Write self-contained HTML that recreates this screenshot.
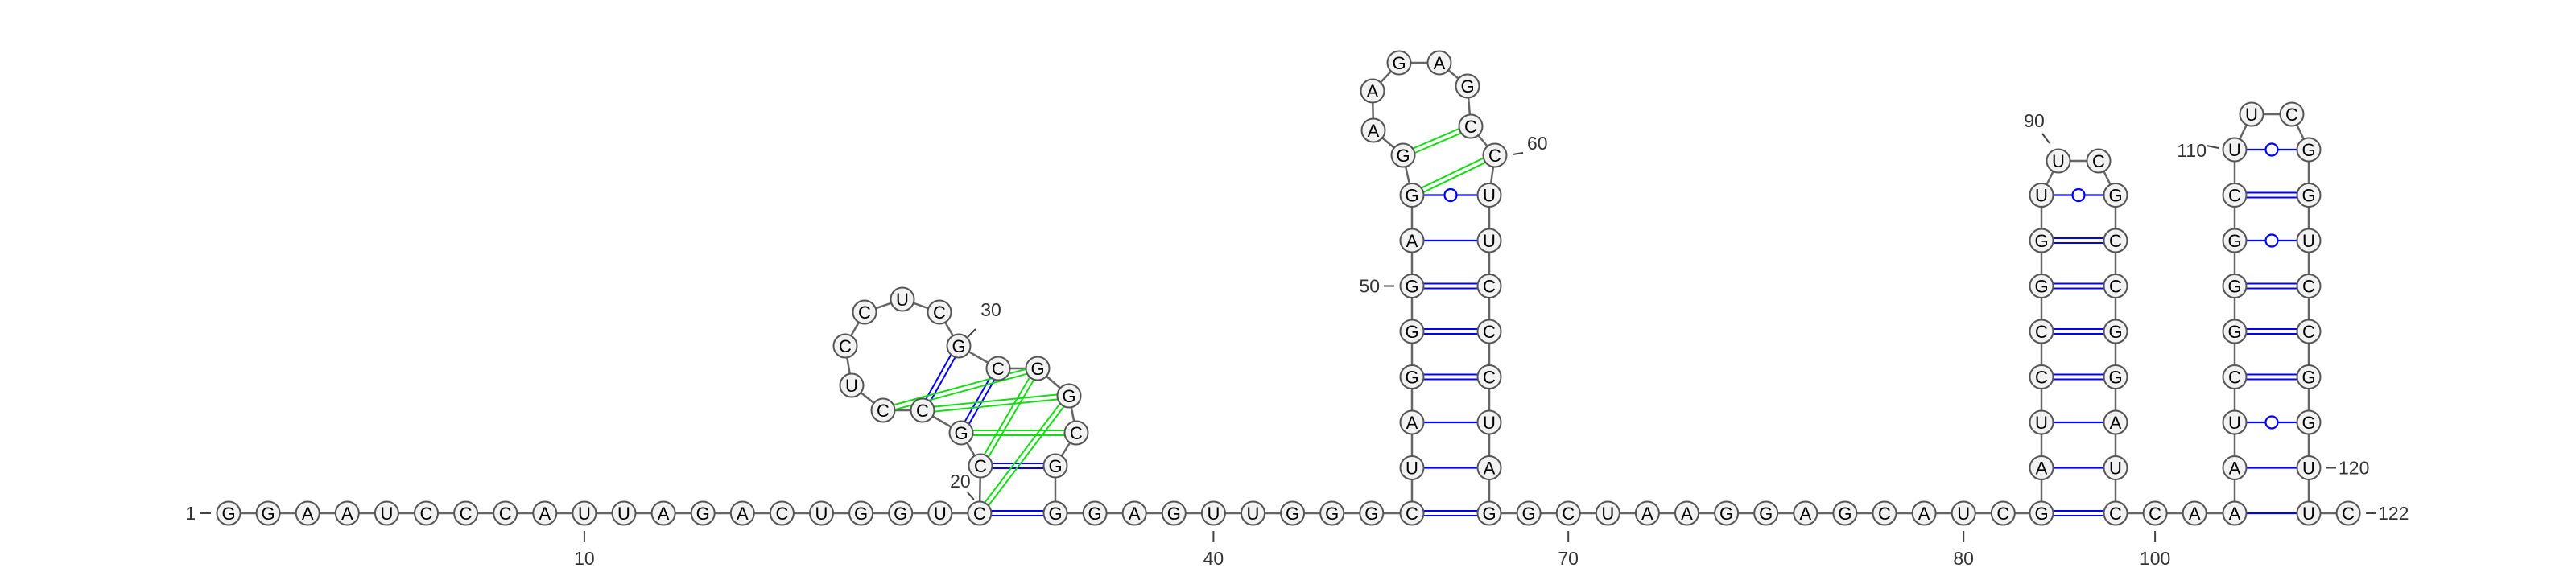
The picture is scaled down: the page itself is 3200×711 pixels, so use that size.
<!DOCTYPE html>
<html><head><meta charset="utf-8"><style>
html,body{margin:0;padding:0;background:#fff;}
svg{display:block;}
text{font-family:"Liberation Sans",sans-serif;}
</style></head><body>
<svg id="rna" width="3200" height="711" viewBox="0 0 3200 711" xmlns="http://www.w3.org/2000/svg">
<g id="backbone"></g>
<g id="pairs"></g>
<g id="nts"></g>
<g id="labels"></g>
</svg>
<script>
const seqParts = ["GGAAUCCCAUUAGACUGGUC","CGCCUCCUCGCGGCG","GGAGUUGGG","CUAGGGAGGAAGAGCCUUCCCUAG","GCUAAGGAGCAUC","GAUCCGGUUCGCCGGAUC","CA","AAUCGGGCUUCGGUCCGGUUC"];
const seq = seqParts.join("");
// canonical/wobble pairs (blue)
const pairsBlue = [[20,36],[21,35],[22,31],[23,30],[45,68],[46,67],[47,66],[48,65],[49,64],[50,63],[51,62],[52,61],
 [82,99],[83,98],[84,97],[85,96],[86,95],[87,94],[88,93],[89,92],
 [102,121],[103,120],[104,119],[105,118],[106,117],[107,116],[108,115],[109,114],[110,113]];
// alternative / pseudoknot pairs (green)
const pairsGreen = [[24,32],[23,33],[22,34],[21,32],[20,33],[53,59],[52,60]];
const tickLabels = [1,10,20,30,40,50,60,70,80,90,100,110,120,122];

// ---- layout ----
const BASE_Y = 638, STEP = 49.1, ROW = 56.5;
const pos = {};
function linear(a, b, x0){ for(let i=a;i<=b;i++) pos[i]=[x0+(i-a)*STEP, BASE_Y]; }
function stem(a, n, b, xl, xr){ for(let k=0;k<n;k++){ pos[a+k]=[xl, BASE_Y-k*ROW]; pos[b-k]=[xr, BASE_Y-k*ROW]; } }
linear(1,20,284);
linear(36,45,1311);
linear(68,82,1850);
linear(99,102,2628);
linear(121,122,2868);
const pkLoop = {21:[1218,579],22:[1194,538],23:[1146,510],24:[1097,510],25:[1058,479],26:[1050,430],27:[1074,388],
 28:[1121,372],29:[1167,388],30:[1191,430],31:[1240,458],32:[1289,458],33:[1328,492],34:[1337,538],35:[1311,579]};
Object.assign(pos, pkLoop);
stem(45,8,68,1754,1850);
Object.assign(pos,{53:[1743,193],54:[1706,162],55:[1705,113],56:[1738,78],57:[1788,78],58:[1823,107],59:[1827,157],60:[1857,193]});
stem(82,8,99,2536,2628);
Object.assign(pos,{90:[2557,200],91:[2607,200]});
stem(102,9,121,2776,2868);
Object.assign(pos,{111:[2797,142],112:[2847,142]});

const NS="http://www.w3.org/2000/svg";
function el(tag, attrs, parent){ const e=document.createElementNS(NS,tag); for(const k in attrs) e.setAttribute(k,attrs[k]); parent.appendChild(e); return e; }
const gB=document.getElementById('backbone'), gP=document.getElementById('pairs'), gN=document.getElementById('nts'), gL=document.getElementById('labels');

for(let i=1;i<seq.length;i++){
  const a=pos[i], b=pos[i+1];
  const l=el('line',{x1:a[0],y1:a[1],x2:b[0],y2:b[1],stroke:'#666','stroke-width':2.5},gB);
  
  
}
function isGC(i,j){ const p=seq[i-1]+seq[j-1]; return p==="GC"||p==="CG"; }
function isGU(i,j){ const p=seq[i-1]+seq[j-1]; return p==="GU"||p==="UG"; }
function drawPair(i,j,color,dbl){
  const a=pos[i], b=pos[j];
  const dx=b[0]-a[0], dy=b[1]-a[1], L=Math.hypot(dx,dy), nx=-dy/L*3, ny=dx/L*3;
  const g=el('g',{},gP);
  
  
  if(dbl){
    el('line',{x1:a[0]+nx,y1:a[1]+ny,x2:b[0]+nx,y2:b[1]+ny,stroke:color,'stroke-width':2},g);
    el('line',{x1:a[0]-nx,y1:a[1]-ny,x2:b[0]-nx,y2:b[1]-ny,stroke:color,'stroke-width':2},g);
  } else {
    el('line',{x1:a[0],y1:a[1],x2:b[0],y2:b[1],stroke:color,'stroke-width':2.2},g);
    if(isGU(i,j)) el('circle',{cx:(a[0]+b[0])/2,cy:(a[1]+b[1])/2,r:7.5,fill:'#fff',stroke:color,'stroke-width':2.2},g);
  }
}
pairsBlue.forEach(p=>drawPair(p[0],p[1],'#0000ff',isGC(p[0],p[1])));
pairsGreen.forEach(p=>drawPair(p[0],p[1],'#11dd11',true));

for(let i=1;i<=seq.length;i++){
  const [x,y]=pos[i];
  const g=el('g',{},gN);
  
  
  el('circle',{cx:x,cy:y,r:14.5,fill:'#f2f2f2',stroke:'#555','stroke-width':2},g);
  const t=el('text',{x:x,y:y+8,'text-anchor':'middle','font-size':22,fill:'#000'},g);
  t.textContent=seq[i-1];
}

function label(n){
  const [x,y]=pos[n];
  let tx,ty,anchor,line;
  if(n===1){ ty=y+8; anchor='end'; line=[x-35,y,x-22,y]; tx=x-41; }
  else if(n===20){ tx=x-24; ty=y-32; anchor='middle'; line=[x-15,y-26,x-7,y-17]; }
  else if(n===30){ tx=x+40; ty=y-37; anchor='middle'; line=[x+11,y-11,x+21,y-21]; }
  else if(n===50){ tx=x-40; ty=y+8; anchor='end'; line=[x-35,y,x-22,y]; }
  else if(n===60){ tx=x+40; ty=y-7; anchor='start'; line=[x+22,y-1,x+35,y-3]; }
  else if(n===90){ tx=x-30; ty=y-42; anchor='middle'; line=[x-20,y-34,x-11,y-22]; }
  else if(n===110){ tx=x-35; ty=y+9; anchor='end'; line=[x-35,y-5,x-20,y-2]; }
  else if(n===120||n===122){ tx=x+37; ty=y+8; anchor='start'; line=[x+22,y,x+34,y]; }
  else { tx=x; ty=y+64; anchor='middle'; line=[x,y+22,x,y+36]; }
  const g=el('g',{},gL);
  
  
  el('line',{x1:line[0],y1:line[1],x2:line[2],y2:line[3],stroke:'#444','stroke-width':2},g);
  const t=el('text',{x:tx,y:ty,'text-anchor':anchor,'font-size':23,fill:'#333'},g);
  t.textContent=String(n);
}
tickLabels.forEach(label);
</script>
</body></html>
